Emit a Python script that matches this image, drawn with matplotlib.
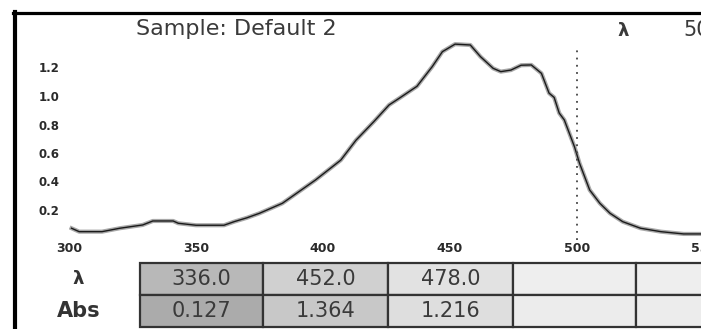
import matplotlib
matplotlib.use("Agg")
import matplotlib.pyplot as plt
from matplotlib.lines import Line2D

# spectrum (nm, Abs)
wavelength = [301, 304, 313, 320, 329, 333, 341, 343, 350, 361, 365, 370, 375,
              384, 397, 407, 413, 420, 426, 430, 437, 443, 447, 452, 458, 462,
              467, 470, 474, 478, 482, 486, 489, 491, 493, 495, 499, 501, 503,
              505, 509, 513, 518, 525, 533, 542, 549, 556]
absorbance = [0.072, 0.048, 0.048, 0.072, 0.095, 0.123, 0.123, 0.107, 0.093,
              0.093, 0.118, 0.145, 0.177, 0.247, 0.41, 0.55, 0.69, 0.82, 0.937,
              0.984, 1.068, 1.206, 1.311, 1.364, 1.358, 1.276, 1.194, 1.171,
              1.182, 1.216, 1.218, 1.159, 1.02, 0.99, 0.88, 0.832, 0.644,
              0.528, 0.434, 0.34, 0.247, 0.177, 0.118, 0.072, 0.048, 0.032,
              0.032, 0.03]

x_ticks = [300, 350, 400, 450, 500, 550]
y_ticks = [0.2, 0.4, 0.6, 0.8, 1.0, 1.2]
cursor_nm = 500

title = "Sample: Default 2"
row_labels = ["λ", "Abs"]
peak_wl = ["336.0", "452.0", "478.0", "", ""]
peak_abs = ["0.127", "1.364", "1.216", "", ""]

W, H = 701, 329


def fx(px):
    return px / W


def fy(py):
    return 1 - py / H


fig = plt.figure(figsize=(W / 100, H / 100), dpi=100)
fig.patch.set_facecolor("white")

# spectrum panel
ax = fig.add_axes([fx(69), fy(238.5), fx(720) - fx(69), fy(32) - fy(238.5)])
ax.plot(wavelength, absorbance, color="#a8a8a8", lw=3.0)
ax.plot(wavelength, absorbance, color="#1a1a1a", lw=1.0)
ax.vlines(cursor_nm, -0.01, 1.36, colors="#444444", linestyles=(0, (1, 3)),
          lw=1.3, clip_on=False)
ax.set_xlim(300, 300 + 651 / 2.54)
ax.set_ylim(0, 206.5 / 142.5)
ax.set_xticks(x_ticks)
ax.set_xticklabels([str(t) for t in x_ticks])
ax.set_yticks(y_ticks)
ax.set_yticklabels([f"{t:.1f}" for t in y_ticks])
ax.tick_params(axis="x", length=0, pad=2.5, labelsize=9, labelcolor="#2a2a2a")
ax.tick_params(axis="y", length=0, pad=7, labelsize=8.5, labelcolor="#2a2a2a")
for lab in ax.get_xticklabels() + ax.get_yticklabels():
    lab.set_fontweight("bold")
for s in ax.spines.values():
    s.set_visible(False)
ax.patch.set_alpha(0)

# header texts
fig.text(fx(236), fy(29), title, ha="center", va="center", fontsize=16,
         color="#3a3a3a")
fig.text(fx(623), fy(31), "λ", ha="center", va="center", fontsize=13,
         fontweight="bold", color="#3a3a3a")
fig.text(fx(683), fy(30), str(cursor_nm), ha="left", va="center", fontsize=15,
         color="#3a3a3a")

# peak table
tax = fig.add_axes([fx(17), fy(327), fx(761) - fx(17), fy(263) - fy(327)])
tax.axis("off")
cells = [[row_labels[0]] + peak_wl, [row_labels[1]] + peak_abs]
shades = [["white", "#b8b8b8", "#d0d0d0", "#e2e2e2", "#eeeeee", "#eeeeee"],
          ["white", "#ababab", "#c8c8c8", "#dedede", "#ececec", "#ececec"]]
tbl = tax.table(cellText=cells, cellColours=shades,
                colWidths=[123, 123, 125, 125, 123, 125],
                cellLoc="center", bbox=[0, 0, 1, 1])
tbl.auto_set_font_size(False)
for (r, c), cell in tbl.get_celld().items():
    t = cell.get_text()
    t.set_color("#3a3a3a")
    t.set_fontsize(15)
    if c == 0:
        cell.visible_edges = ""
        t.set_fontweight("bold")
        t.set_color("#333333")
        t.set_fontsize(13 if r == 0 else 15)
    else:
        cell.set_edgecolor("#333333")
        cell.set_linewidth(1.6)

# screen frame
fig.add_artist(Line2D([fx(13), 1], [fy(13), fy(13)], transform=fig.transFigure,
                      color="black", lw=2.3))
fig.add_artist(Line2D([fx(15), fx(15)], [fy(12), 0], transform=fig.transFigure,
                      color="black", lw=3))

fig.savefig("out.png", dpi=100)
plt.close(fig)
